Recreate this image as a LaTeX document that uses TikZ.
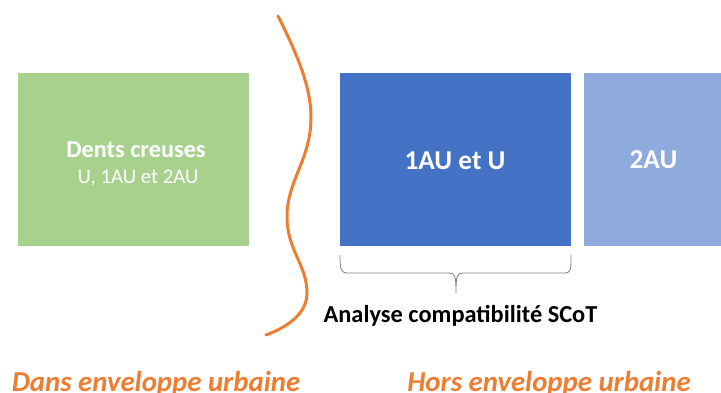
\documentclass[tikz,border=0pt]{standalone}
\usepackage{fontspec}
\setmainfont{Carlito}
\definecolor{vert}{HTML}{A9D18E}
\definecolor{bleu}{HTML}{4472C4}
\definecolor{bleuclair}{HTML}{8FAADC}
\definecolor{orange}{HTML}{ED7D31}
\definecolor{gris}{HTML}{808080}
\begin{document}
\begin{tikzpicture}[x=1pt,y=-1pt,
  boxe/.style={draw=none,inner sep=0pt},
  boxtext/.style={text=white,inner sep=0pt,anchor=base},
  bracestyle/.style={gris,line width=0.8pt},
  bottomlabel/.style={text=orange,font=\fontsize{28.8}{32}\selectfont\bfseries\itshape,inner sep=0pt,anchor=base}]
\useasboundingbox (0,0) rectangle (721,392);
\fill[white] (0,0) rectangle (721,392);
\node[boxe,fill=vert,minimum width=231pt,minimum height=173pt] (dc) at (133.5,159.5) {};
\node[boxe,fill=bleu,minimum width=231pt,minimum height=173pt] (au1) at (455.5,159.5) {};
\node[boxe,fill=bleuclair,minimum width=150pt,minimum height=173pt,anchor=west] (au2) at (584,159.5) {};
\node[boxtext,font=\fontsize{24.3}{28}\selectfont\bfseries] (dct) at (136,157) {Dents creuses};
\node[boxtext,font=\fontsize{20.8}{25}\selectfont] (dcs) at (138,183) {U, 1AU et 2AU};
\node[boxtext,font=\fontsize{27.3}{32}\selectfont\bfseries] (au1t) at (455,169) {1AU et U};
\node[boxtext,font=\fontsize{27.3}{32}\selectfont\bfseries] (au2t) at (653.5,168.5) {2AU};
\draw[orange,line width=3pt,line cap=round] (278,16) .. controls (295,50) and (311,85) .. (311,117)
  .. controls (311,160) and (287,180) .. (287,217)
  .. controls (287,250) and (307,265) .. (307,293)
  .. controls (307,315) and (285,328) .. (266,335);
\coordinate (bl) at (340,255);
\coordinate (br) at (571,255);
\coordinate (bt) at (456,293);
\draw[bracestyle] (bl) .. controls (340,270) and (341,273) .. (348,273)
  -- (449,273) .. controls (455,273) and (456,276) .. (bt)
  .. controls (456,276) and (457,273) .. (463,273)
  -- (564,273) .. controls (571,273) and (571,270) .. (br);
\node[font=\fontsize{24.4}{28}\selectfont\bfseries,inner sep=0pt,anchor=base] (scot) at (460.5,322) {Analyse compatibilité SCoT};
\node[bottomlabel] (dans) at (156,391.5) {Dans enveloppe urbaine};
\node[bottomlabel] (hors) at (549,391.5) {Hors enveloppe urbaine};
\end{tikzpicture}
\end{document}
